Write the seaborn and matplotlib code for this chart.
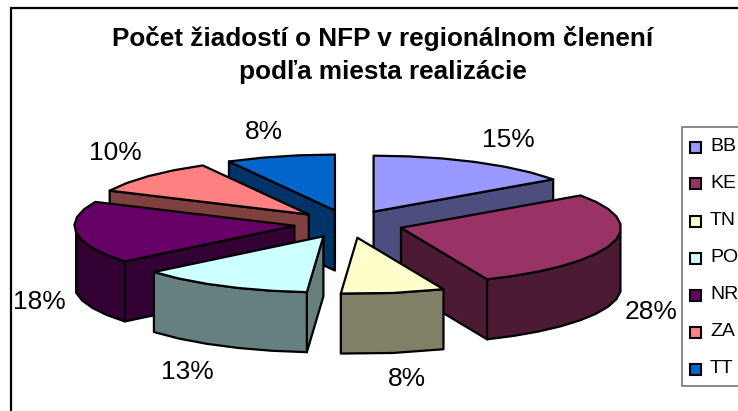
import numpy as np
import matplotlib
matplotlib.use("Agg")
import matplotlib.pyplot as plt
from matplotlib.patches import Polygon, Rectangle
import seaborn as sns

# data
regions = ['BB', 'KE', 'TN', 'PO', 'NR', 'ZA', 'TT']
shares = [15.2, 28.4, 7.6, 12.8, 18, 10, 8]
label_text = ['15%', '28%', '8%', '13%', '18%', '10%', '8%']
top_colors = ['#9999FF', '#993366', '#FFFFCC', '#CCFFFF', '#660066', '#FF8080', '#0066CC']
title = 'Počet žiadostí o NFP v regionálnom členení\npodľa miesta realizácie'

sns.set_theme(style='white')
plt.rcParams['font.family'] = ['Liberation Sans', 'DejaVu Sans']
palette = sns.color_palette(top_colors)

W, H = 738, 411
CX, CY = 348.5, 224      # pie centre in pixels
RX, RY = 220, 56         # ellipse of the top face
DEPTH = 60
EXPLODE = 0.248
LW = 1.6

fig = plt.figure(figsize=(W / 100, H / 100), dpi=100)
ax = fig.add_axes([0, 0, 1, 1])
ax.set_xlim(0, W)
ax.set_ylim(H, 0)
ax.axis('off')

# chart frame runs off the right and bottom of the picture
ax.add_patch(Rectangle((10.7, 8), W, H, fc='white', ec='black', lw=1.6, zorder=0))


def project(angle, r=1.0):
    a = np.radians(angle)
    return np.sin(a) * RX * r, -np.cos(a) * RY * r


# slice angles, clockwise from 12 o'clock
edges = np.concatenate([[0], np.cumsum(shares)]) * 360 / sum(shares)
mids = (edges[:-1] + edges[1:]) / 2

# paint from the back of the pie to the front
order = np.argsort(-np.cos(np.radians(mids)))
z = 1
for i in order:
    a0, a1 = edges[i], edges[i + 1]
    ex, ey = project(mids[i], EXPLODE)
    tip = np.array([CX + ex, CY + ey])
    arc = np.linspace(a0, a1, max(3, int((a1 - a0) / 7)))
    rim = np.array([project(a) for a in arc]) + tip
    down = np.array([0, DEPTH])
    wall = tuple(c * 0.5 for c in palette[i])
    style = dict(ec='black', lw=LW, joinstyle='round')

    # radial faces, only the ones turned to the viewer
    if np.sin(np.radians(a0)) < -1e-6:
        ax.add_patch(Polygon([tip, rim[0], rim[0] + down, tip + down], fc=wall, zorder=z, **style))
    if np.sin(np.radians(a1)) > 1e-6:
        ax.add_patch(Polygon([tip, rim[-1], rim[-1] + down, tip + down], fc=wall, zorder=z, **style))
    # outer wall on the front half of the rim
    front = np.cos(np.radians(arc)) <= 0
    if front.sum() > 1:
        r = rim[front]
        ax.add_patch(Polygon(np.vstack([r, (r + down)[::-1]]), fc=wall, zorder=z, **style))
    ax.add_patch(Polygon(np.vstack([[tip], rim]), fc=palette[i], zorder=z, **style))
    z += 1

ax.text(382.5, 55, title, ha='center', va='center', fontsize=18.8, fontweight='bold',
        color='black', linespacing=1.47, zorder=20)

# percentage labels
label_x = [508, 651, 407, 187, 39, 115, 264]
label_y = [140, 312, 379, 372, 302, 153, 132]
for s, x, y in zip(label_text, label_x, label_y):
    ax.text(x, y, s, ha='center', va='center', fontsize=19, color='black', zorder=20)

# legend box, also cut by the right edge
ax.add_patch(Rectangle((682, 127), W, 259, fc='white', ec='#808080', lw=1.3, zorder=30))
for k, (name, c) in enumerate(zip(regions, palette)):
    y = 146 + 37 * k
    ax.add_patch(Rectangle((690, y - 4.5), 11, 11, fc=c, ec='black', lw=1.5, zorder=31))
    ax.text(710, y, name, ha='left', va='center', fontsize=14, color='black', zorder=31)

fig.savefig('out.png', dpi=100)
